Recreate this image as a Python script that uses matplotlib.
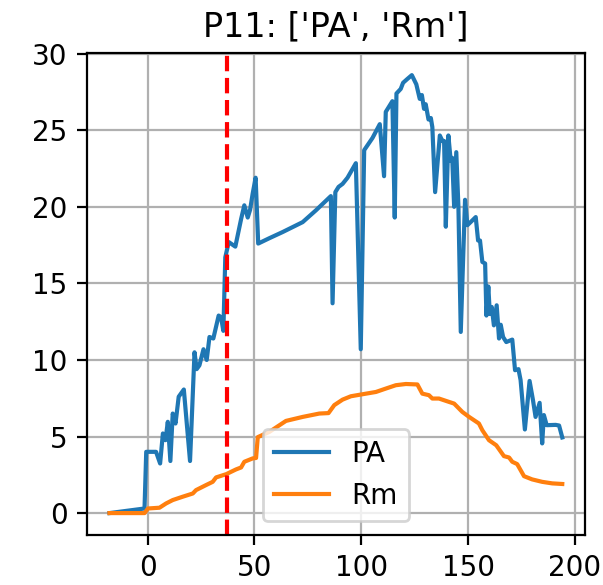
import matplotlib
matplotlib.use("Agg")
import matplotlib.pyplot as plt

# PA series
pa_x = [-17.8, -1.4, -0.6, 4.0, 5.9, 7.2, 8.4, 9.5, 10.7, 11.8, 13.1, 14.6, 17.0, 19.9,
        22.0, 23.0, 24.3, 26.2, 27.7, 29.0, 30.8, 33.3, 34.4, 35.5, 36.4, 38.0, 41.1,
        43.8, 45.3, 46.9, 48.0, 49.2, 50.6, 51.8, 57.0, 63.2, 72.6, 78.8, 85.8, 86.6,
        87.9, 89.4, 91.3, 93.6, 97.5, 99.8, 101.4, 105.3, 108.7, 110.7, 111.5, 114.6,
        115.7, 116.5, 118.5, 119.6, 121.6, 123.7, 125.8, 127.4, 128.4, 129.4, 130.2,
        131.5, 132.6, 133.3, 134.6, 136.8, 138.0, 138.8, 139.6, 140.8, 141.9, 142.6,
        143.5, 144.5, 145.5, 146.6, 148.6, 149.7, 151.2, 153.6, 154.7, 155.6, 156.7,
        158.0, 158.6, 159.5, 160.2, 161.1, 162.1, 163.4, 164.5, 165.3, 166.4, 167.9,
        170.7, 172.0, 173.6, 174.6, 176.6, 178.8, 180.4, 181.6, 183.5, 184.7, 185.5,
        186.8, 191.0, 192.6, 194.1]
pa_y = [0.0, 0.3, 4.0, 4.0, 3.24, 5.2, 4.76, 5.96, 3.4, 6.5, 5.85, 7.6, 8.07, 3.4,
        10.5, 9.4, 9.65, 10.7, 10.0, 11.5, 11.4, 12.9, 12.8, 11.9, 16.7, 17.7, 17.4,
        19.2, 20.1, 19.3, 19.8, 20.85, 21.9, 17.6, 17.95, 18.35, 19.0, 19.77, 20.7, 13.7,
        20.96, 21.3, 21.5, 21.9, 22.85, 10.7, 23.7, 24.5, 25.4, 22.0, 26.2, 26.9,
        19.3, 27.4, 27.7, 28.1, 28.35, 28.6, 28.0, 27.05, 27.3, 26.4, 26.7,
        25.7, 25.8, 25.2, 20.96, 24.66, 24.3, 24.3, 18.7, 24.66, 23.0, 23.2,
        20.0, 23.57, 20.0, 11.83, 20.46, 18.8, 19.0, 19.33, 17.8, 17.8, 16.4,
        16.3, 12.9, 14.8, 13.0, 13.46, 12.26, 13.57, 11.4, 12.3, 11.5, 11.17,
        11.33, 9.33, 9.4, 8.68, 5.46, 8.63, 7.37, 6.28, 7.2, 4.55, 6.4,
        5.74, 5.76, 5.72, 4.94]

# Rm series
rm_x = [-17.8, -1.4, 0.2, 5.6, 8.7, 11.8, 16.5, 21.2, 22.7, 27.4, 30.5, 32.1, 36.8,
        41.4, 43.8, 45.3, 49.2, 50.8, 51.6, 57.0, 64.8, 72.6, 80.4, 84.7, 87.4, 91.3,
        95.2, 100.6, 106.9, 111.5, 116.2, 120.9, 126.3, 128.6, 131.7, 133.3, 136.4,
        141.1, 143.5, 147.3, 150.5, 155.1, 156.7, 159.8, 163.2, 166.8, 169.2, 170.7,
        173.0, 176.2, 180.0, 184.7, 189.4, 194.1]
rm_y = [0.0, 0.0, 0.3, 0.35, 0.63, 0.85, 1.07, 1.28, 1.5, 1.83, 2.04, 2.33, 2.54,
        2.85, 2.98, 3.35, 3.57, 3.6, 4.96, 5.3, 6.02, 6.28, 6.5, 6.53, 7.05, 7.41,
        7.63, 7.76, 7.91, 8.13, 8.35, 8.43, 8.4, 7.8, 7.7, 7.48, 7.48,
        7.26, 7.15, 6.61, 6.28, 5.85, 5.41, 4.76, 4.43, 3.72, 3.63, 3.35,
        3.2, 2.41, 2.2, 2.04, 1.94, 1.9]

marker_x = 37

fig, ax = plt.subplots(figsize=(3.015, 2.925), dpi=200)
fig.subplots_adjust(left=0.144, right=0.970, top=0.909, bottom=0.0855)

ax.plot(pa_x, pa_y, label='PA')
ax.plot(rm_x, rm_y, label='Rm')
ax.axvline(marker_x, color='red', linestyle='--', linewidth=1.5)
ax.set_title("P11: ['PA', 'Rm']")
ax.grid(True)
ax.legend(loc='lower center')

plt.savefig('out.png')
